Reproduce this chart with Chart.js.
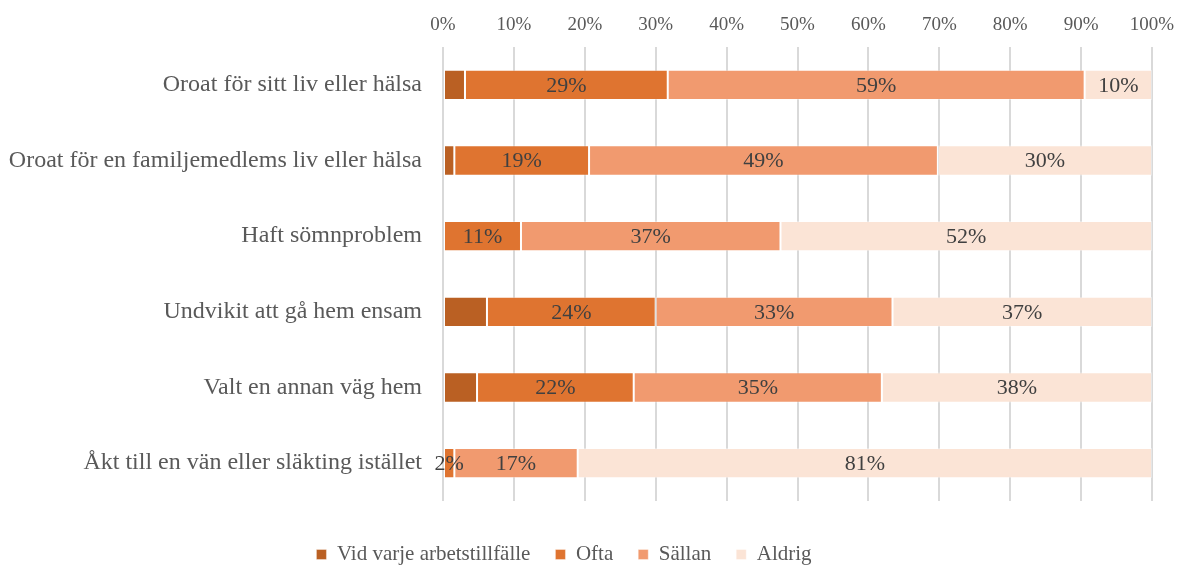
<!DOCTYPE html>
<html>
<head>
<meta charset="utf-8">
<script src="https://cdn.jsdelivr.net/npm/chart.js@4.4.0/dist/chart.umd.min.js"></script>
<style>
  html, body { margin: 0; padding: 0; background: #fff; }
</style>
</head>
<body>
<canvas id="chart" width="1179" height="566"></canvas>
<script>
// === DATA ===
const categories = [
  "Oroat för sitt liv eller hälsa",
  "Oroat för en familjemedlems liv eller hälsa",
  "Haft sömnproblem",
  "Undvikit att gå hem ensam",
  "Valt en annan väg hem",
  "Åkt till en vän eller släkting istället"
];
const seriesNames = ["Vid varje arbetstillfälle", "Ofta", "Sällan", "Aldrig"];
const vidVarje = [3.1, 1.6, 0, 6.2, 4.8, 0];
const ofta = [28.6, 19.0, 11.0, 23.8, 22.1, 1.6];
const sallan = [58.8, 49.2, 36.6, 33.4, 35.0, 17.4];
const aldrig = [9.5, 30.2, 52.4, 36.6, 38.1, 81.0];
const xTicks = [0, 10, 20, 30, 40, 50, 60, 70, 80, 90, 100];

const colors = ["#BA6023", "#DF7430", "#F19A6F", "#FBE4D6"];
const fontFamily = '"Liberation Serif", "Times New Roman", serif';

Chart.defaults.font.family = fontFamily;

// etiketter mitt i staplarna
const barLabels = {
  id: "barLabels",
  afterLayout(chart) {
    // legenden sitter lite till vänster om mitten
    chart.legend.left -= 12;
    chart.legend.right -= 12;
  },
  afterDatasetsDraw(chart) {
    const ctx = chart.ctx;
    ctx.save();
    ctx.font = "22px " + fontFamily;
    ctx.fillStyle = "#404040";
    ctx.textAlign = "center";
    ctx.textBaseline = "middle";
    chart.data.datasets.forEach((ds, i) => {
      if (!ds.showLabels) return;
      chart.getDatasetMeta(i).data.forEach((bar, j) => {
        const v = ds.data[j];
        if (!v) return;
        ctx.fillText(Math.round(v) + "%", (bar.x + bar.base) / 2, bar.y + 1);
      });
    });
    ctx.restore();
  }
};

const seriesData = [vidVarje, ofta, sallan, aldrig];

const ctx = document.getElementById("chart").getContext("2d");
new Chart(ctx, {
  type: "bar",
  data: {
    labels: categories,
    datasets: seriesData.map((d, i) => ({
      label: seriesNames[i],
      data: d,
      backgroundColor: colors[i],
      borderColor: "rgba(255,255,255,0.35)",
      borderWidth: 1,
      borderSkipped: false,
      categoryPercentage: 1,
      barPercentage: 0.4,
      showLabels: i > 0
    }))
  },
  options: {
    indexAxis: "y",
    responsive: false,
    animation: false,
    layout: { padding: { left: 0, right: 27, top: 0, bottom: -9 } },
    scales: {
      x: {
        position: "top",
        stacked: true,
        min: 0,
        max: 100,
        afterBuildTicks: (s) => { s.ticks = xTicks.map((v) => ({ value: v })); },
        ticks: {
          callback: (v) => v + "%",
          color: "#595959",
          font: { size: 19 },
          padding: 11
        },
        grid: { color: "#D9D9D9", lineWidth: 2, drawTicks: false },
        border: { display: false },
        afterFit: (s) => { s.height = 47; s.paddingLeft = 0; s.paddingRight = 0; }
      },
      y: {
        stacked: true,
        grid: { display: false, drawTicks: false },
        border: { display: false },
        ticks: { color: "#595959", font: { size: 24 }, padding: 21 },
        afterFit: (s) => { s.width = 443; }
      }
    },
    plugins: {
      tooltip: { enabled: false },
      legend: {
        position: "bottom",
        title: { display: true, text: "", padding: 0, font: { size: 18, lineHeight: 1 } },
        labels: {
          boxWidth: 10,
          boxHeight: 10,
          padding: 25,
          color: "#595959",
          font: { size: 21 }
        }
      }
    }
  },
  plugins: [barLabels]
});
</script>
</body>
</html>
